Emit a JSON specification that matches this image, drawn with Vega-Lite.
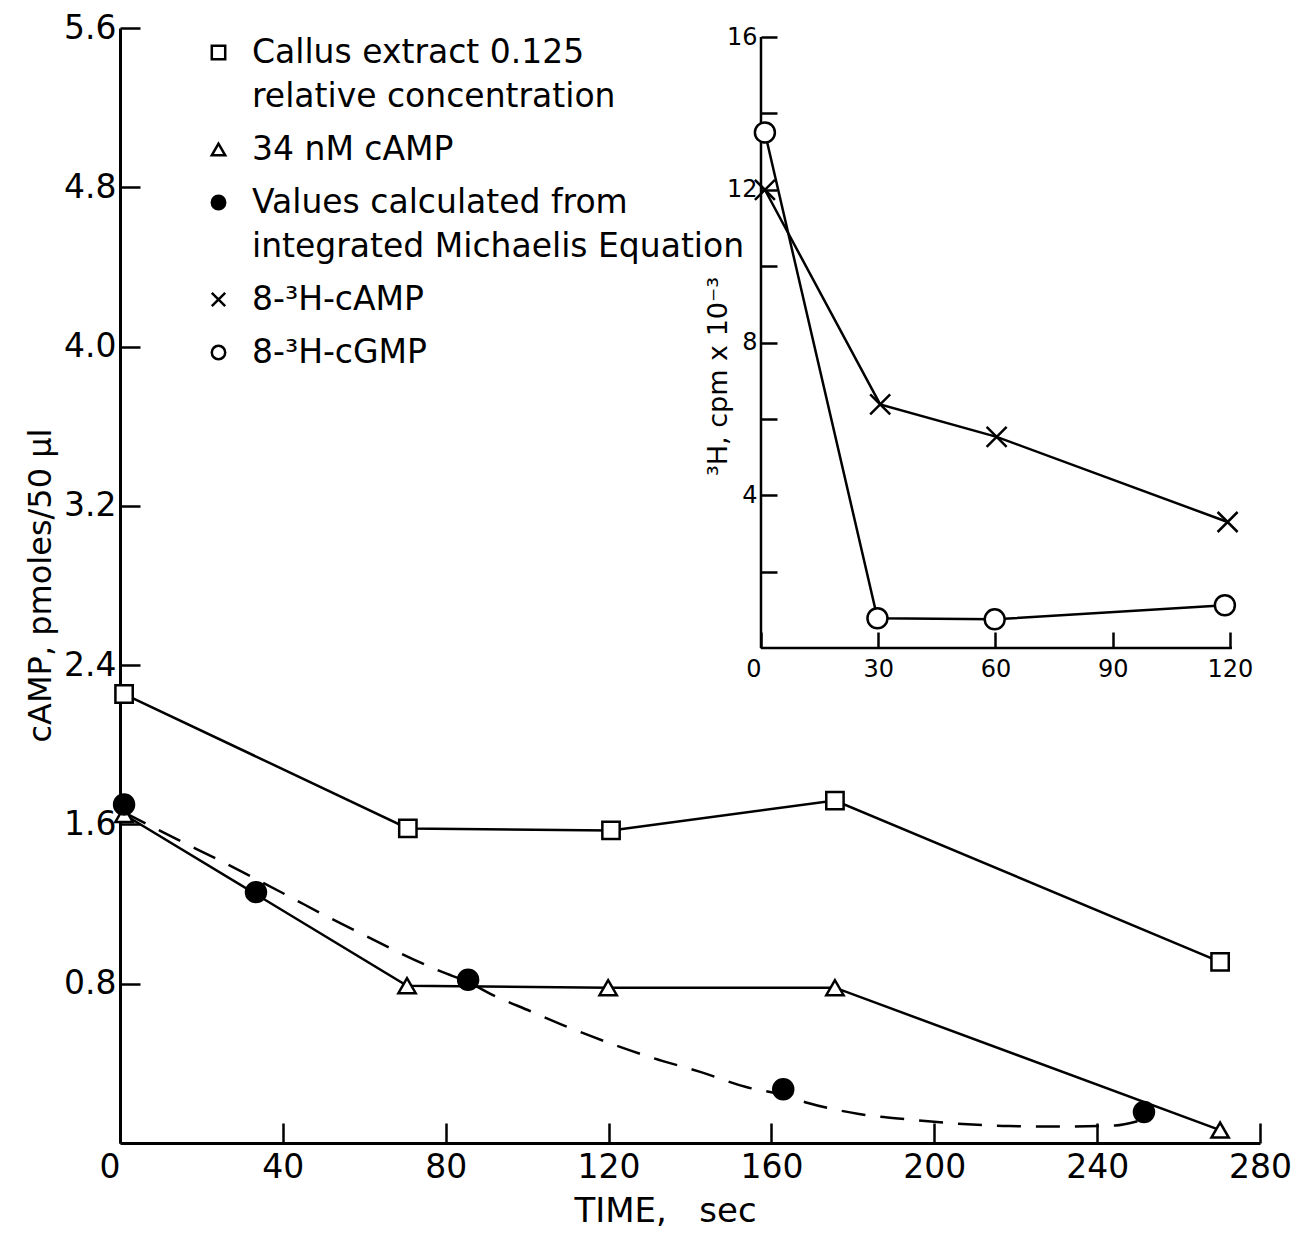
{
  "$schema": "https://vega.github.io/schema/vega-lite/v6.json",
  "width": 1140,
  "height": 1115,
  "autosize": {"type": "none"},
  "padding": {"left": 120, "top": 28, "right": 42, "bottom": 99},
  "background": "white",
  "config": {
    "view": {"stroke": null},
    "font": "DejaVu Sans",
    "style": {"guide-label": {"lineHeight": 44}},
    "axis": {
      "grid": false,
      "domainColor": "black",
      "tickColor": "black",
      "labelColor": "black",
      "titleColor": "black",
      "labelFont": "DejaVu Sans",
      "titleFont": "DejaVu Sans",
      "titleFontWeight": "normal",
      "labelFlush": false,
      "labelOverlap": false
    },
    "legend": {
      "orient": "none",
      "legendX": 82,
      "legendY": 8,
      "padding": 0,
      "labelFont": "DejaVu Sans",
      "labelFontSize": 33,
      "labelColor": "black",
      "labelLimit": 900,
      "labelOffset": 17,
      "symbolSize": 180,
      "symbolStrokeColor": "black",
      "symbolStrokeWidth": 2.5,
      "rowPadding": 19
    }
  },
  "datasets": {
    "main": [
      {"series": "sq", "t": 1, "v": 2.255},
      {"series": "sq", "t": 70.7, "v": 1.58},
      {"series": "sq", "t": 120.6, "v": 1.57},
      {"series": "sq", "t": 175.6, "v": 1.72},
      {"series": "sq", "t": 270.2, "v": 0.91},
      {"series": "tri", "t": 1, "v": 1.65},
      {"series": "tri", "t": 70.5, "v": 0.79},
      {"series": "tri", "t": 119.9, "v": 0.78},
      {"series": "tri", "t": 175.6, "v": 0.78},
      {"series": "tri", "t": 270.2, "v": 0.065},
      {"series": "dot", "t": 1, "v": 1.70},
      {"series": "dot", "t": 33.4, "v": 1.26},
      {"series": "dot", "t": 85.5, "v": 0.82},
      {"series": "dot", "t": 162.9, "v": 0.27},
      {"series": "dot", "t": 251.5, "v": 0.156}
    ],
    "curve": [
      {"t": 1, "v": 1.66},
      {"t": 13.8, "v": 1.527},
      {"t": 23.8, "v": 1.426},
      {"t": 41.3, "v": 1.241},
      {"t": 50.6, "v": 1.14},
      {"t": 60.4, "v": 1.04},
      {"t": 69.3, "v": 0.949},
      {"t": 79.1, "v": 0.859},
      {"t": 85.5, "v": 0.808},
      {"t": 91.1, "v": 0.748},
      {"t": 100.7, "v": 0.663},
      {"t": 110.5, "v": 0.578},
      {"t": 120.9, "v": 0.497},
      {"t": 130.9, "v": 0.427},
      {"t": 142.5, "v": 0.357},
      {"t": 153.8, "v": 0.281},
      {"t": 162.9, "v": 0.241},
      {"t": 169, "v": 0.201},
      {"t": 181.5, "v": 0.146},
      {"t": 194, "v": 0.118},
      {"t": 205.3, "v": 0.098},
      {"t": 218.4, "v": 0.085},
      {"t": 230.4, "v": 0.083},
      {"t": 244.4, "v": 0.088},
      {"t": 250, "v": 0.11}
    ],
    "inset": [
      {"series": "x", "t": 1, "v": 12.0},
      {"series": "x", "t": 30.5, "v": 6.38},
      {"series": "x", "t": 60.3, "v": 5.53},
      {"series": "x", "t": 119.4, "v": 3.3},
      {"series": "o", "t": 1, "v": 13.5},
      {"series": "o", "t": 29.8, "v": 0.78},
      {"series": "o", "t": 59.8, "v": 0.75},
      {"series": "o", "t": 118.7, "v": 1.12}
    ],
    "insetFrame": [
      {"t": 0, "t2": 0, "v": 0, "v2": 16},
      {"t": 0, "t2": 120.5, "v": 0, "v2": 0}
    ]
  },
  "layer": [
    {
      "encoding": {
        "x": {
          "field": "t", "type": "quantitative",
          "scale": {"domain": [0, 280], "nice": false, "zero": false},
          "axis": {
            "orient": "bottom",
            "values": [0, 40, 80, 120, 160, 200, 240, 280],
            "tickSize": -20, "tickWidth": 2.5, "domainWidth": 3,
            "labelFontSize": 33, "labelPadding": 28,
            "labelAlign": {"condition": {"test": "datum.value === 0", "value": "right"}, "value": "center"},
            "title": "TIME,\u00a0\u00a0 sec", "titleFontSize": 34,
            "titleX": 545, "titleY": 68, "titleBaseline": "middle", "titleAlign": "center"
          }
        },
        "y": {
          "field": "v", "type": "quantitative",
          "scale": {"domain": [0, 5.6], "nice": false, "zero": false},
          "axis": {
            "orient": "left",
            "values": [0.8, 1.6, 2.4, 3.2, 4.0, 4.8, 5.6],
            "format": ".1f",
            "tickSize": -20, "tickWidth": 2.5, "domainWidth": 3,
            "labelFontSize": 33, "labelPadding": 24,
            "title": "cAMP,  pmoles/50 μl", "titleFontSize": 32,
            "titleX": -80, "titleY": 557, "titleBaseline": "middle", "titleAlign": "center", "titleAngle": -90
          }
        }
      },
      "layer": [
        {
          "data": {"name": "main"},
          "transform": [{"filter": "datum.series != 'dot'"}],
          "mark": {"type": "line", "stroke": "black", "strokeWidth": 2.5},
          "encoding": {"detail": {"field": "series", "type": "nominal"}}
        },
        {
          "data": {"name": "curve"},
          "mark": {"type": "line", "stroke": "black", "strokeWidth": 2.5, "strokeDash": [24, 15], "interpolate": "monotone"},
          "encoding": {}
        },
        {
          "data": {"name": "main"},
          "transform": [{"filter": "datum.series == 'sq'"}],
          "mark": {"type": "point", "filled": true, "strokeWidth": 2.5, "opacity": 1, "size": 300},
          "encoding": {
            "shape": {
              "field": "series", "type": "nominal",
              "scale": {"domain": ["sq", "tri", "dot", "x", "o"], "range": ["square", "triangle-up", "circle", "M-1,-1L1,1M-1,1L1,-1", "circle"]},
              "legend": {
                "title": null,
                "labelExpr": "datum.value == 'sq' ? ['Callus extract 0.125', 'relative concentration'] : datum.value == 'tri' ? '34 nM  cAMP' : datum.value == 'dot' ? ['Values calculated from', 'integrated Michaelis Equation'] : datum.value == 'x' ? '8-³H-cAMP' : '8-³H-cGMP'"
              }
            },
            "fill": {
              "field": "series", "type": "nominal",
              "scale": {"domain": ["sq", "tri", "dot", "x", "o"], "range": ["white", "white", "black", "white", "white"]},
              "legend": {
                "title": null,
                "labelExpr": "datum.value == 'sq' ? ['Callus extract 0.125', 'relative concentration'] : datum.value == 'tri' ? '34 nM  cAMP' : datum.value == 'dot' ? ['Values calculated from', 'integrated Michaelis Equation'] : datum.value == 'x' ? '8-³H-cAMP' : '8-³H-cGMP'"
              }
            },
            "stroke": {
              "field": "series", "type": "nominal",
              "scale": {"domain": ["sq", "tri", "dot", "x", "o"], "range": ["black", "black", "black", "black", "black"]},
              "legend": {
                "title": null,
                "labelExpr": "datum.value == 'sq' ? ['Callus extract 0.125', 'relative concentration'] : datum.value == 'tri' ? '34 nM  cAMP' : datum.value == 'dot' ? ['Values calculated from', 'integrated Michaelis Equation'] : datum.value == 'x' ? '8-³H-cAMP' : '8-³H-cGMP'"
              }
            }
          }
        },
        {
          "data": {"name": "main"},
          "transform": [{"filter": "datum.series == 'tri'"}],
          "mark": {"type": "point", "filled": true, "strokeWidth": 2.5, "opacity": 1, "size": 300},
          "encoding": {
            "shape": {"field": "series", "type": "nominal", "scale": {"domain": ["sq", "tri", "dot", "x", "o"], "range": ["square", "triangle-up", "circle", "M-1,-1L1,1M-1,1L1,-1", "circle"]}},
            "fill": {"field": "series", "type": "nominal", "scale": {"domain": ["sq", "tri", "dot", "x", "o"], "range": ["white", "white", "black", "white", "white"]}},
            "stroke": {"field": "series", "type": "nominal", "scale": {"domain": ["sq", "tri", "dot", "x", "o"], "range": ["black", "black", "black", "black", "black"]}}
          }
        },
        {
          "data": {"name": "main"},
          "transform": [{"filter": "datum.series == 'dot'"}],
          "mark": {"type": "point", "filled": true, "strokeWidth": 1.5, "opacity": 1, "size": 440},
          "encoding": {
            "shape": {"field": "series", "type": "nominal", "scale": {"domain": ["sq", "tri", "dot", "x", "o"], "range": ["square", "triangle-up", "circle", "M-1,-1L1,1M-1,1L1,-1", "circle"]}},
            "fill": {"field": "series", "type": "nominal", "scale": {"domain": ["sq", "tri", "dot", "x", "o"], "range": ["white", "white", "black", "white", "white"]}},
            "stroke": {"field": "series", "type": "nominal", "scale": {"domain": ["sq", "tri", "dot", "x", "o"], "range": ["black", "black", "black", "black", "black"]}}
          }
        }
      ]
    },
    {
      "encoding": {
        "x": {
          "field": "t", "type": "quantitative",
          "scale": {"domain": [-164.02, 127.69], "nice": false, "zero": false},
          "axis": {
            "orient": "bottom", "offset": -495,
            "values": [0, 30, 60, 90, 120],
            "domain": false,
            "tickSize": -16, "tickWidth": 2.5,
            "labelFontSize": 24, "labelPadding": 25,
            "labelAlign": {"condition": {"test": "datum.value === 0", "value": "right"}, "value": "center"},
            "title": null
          }
        },
        "y": {
          "field": "v", "type": "quantitative",
          "scale": {"domain": [-12.962, 16.236], "nice": false, "zero": false},
          "axis": {
            "orient": "left", "offset": -641,
            "values": [2, 4, 6, 8, 10, 12, 14, 16],
            "domain": false,
            "tickSize": -16, "tickWidth": 2.5,
            "labelFontSize": 24, "labelPadding": 20,
            "labelExpr": "datum.value % 4 == 0 ? datum.label : ''",
            "title": "³H, cpm x 10⁻³", "titleFontSize": 27,
            "titleX": -43, "titleY": 348, "titleBaseline": "middle", "titleAlign": "center", "titleAngle": -90
          }
        }
      },
      "layer": [
        {
          "data": {"name": "insetFrame"},
          "mark": {"type": "rule", "stroke": "black", "strokeWidth": 2.5},
          "encoding": {"x2": {"field": "t2"}, "y2": {"field": "v2"}}
        },
        {
          "data": {"name": "inset"},
          "mark": {"type": "line", "stroke": "black", "strokeWidth": 2.5},
          "encoding": {"detail": {"field": "series", "type": "nominal"}}
        },
        {
          "data": {"name": "inset"},
          "mark": {"type": "point", "filled": true, "strokeWidth": 2.5, "opacity": 1, "size": 400},
          "encoding": {
            "shape": {"field": "series", "type": "nominal", "scale": {"domain": ["sq", "tri", "dot", "x", "o"], "range": ["square", "triangle-up", "circle", "M-1,-1L1,1M-1,1L1,-1", "circle"]}},
            "fill": {"field": "series", "type": "nominal", "scale": {"domain": ["sq", "tri", "dot", "x", "o"], "range": ["white", "white", "black", "white", "white"]}},
            "stroke": {"field": "series", "type": "nominal", "scale": {"domain": ["sq", "tri", "dot", "x", "o"], "range": ["black", "black", "black", "black", "black"]}}
          }
        }
      ]
    }
  ],
  "resolve": {"scale": {"x": "independent", "y": "independent"}}
}
